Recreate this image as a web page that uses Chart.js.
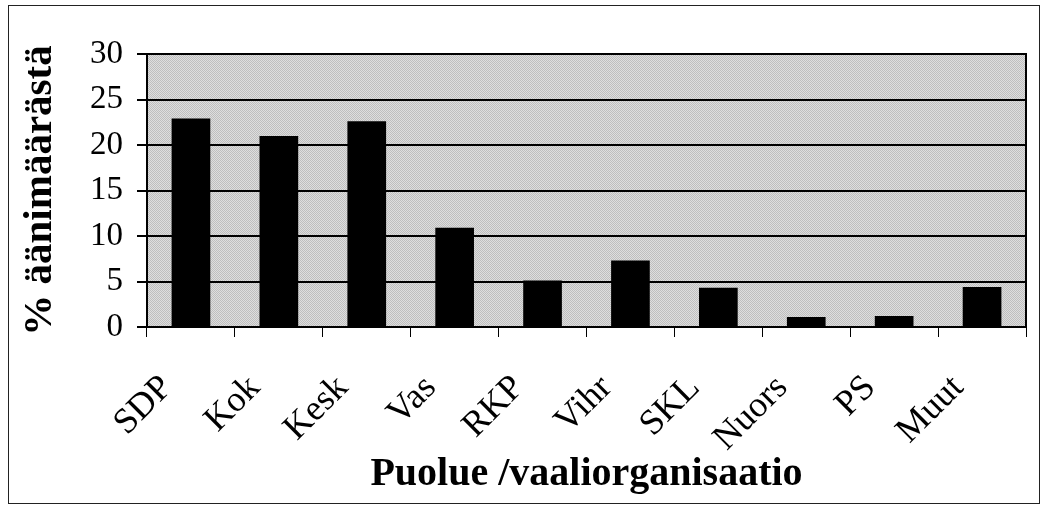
<!DOCTYPE html>
<html>
<head>
<meta charset="utf-8">
<script src="https://cdn.jsdelivr.net/npm/chart.js@4.4.0/dist/chart.umd.min.js"></script>
<style>
  html, body { margin: 0; padding: 0; background: #fff; }
  #wrap { width: 1046px; height: 511px; position: relative; }
</style>
</head>
<body>
<div id="wrap"><canvas id="chart" width="1046" height="511"></canvas></div>
<script>
const parties = ["SDP", "Kok", "Kesk", "Vas", "RKP", "Vihr", "SKL", "Nuors", "PS", "Muut"];
const shares = [22.9, 21.0, 22.6, 10.9, 5.1, 7.3, 4.3, 1.1, 1.2, 4.4];
const yTicks = [0, 5, 10, 15, 20, 25, 30];

// stippled gray plot background
const pat = document.createElement("canvas");
pat.width = 2; pat.height = 2;
const pctx = pat.getContext("2d");
pctx.fillStyle = "#dedede"; pctx.fillRect(0, 0, 2, 2);
pctx.fillStyle = "#bebebe"; pctx.fillRect(0, 0, 1, 1); pctx.fillRect(1, 1, 1, 1);

const framePlugin = {
  id: "frame",
  beforeDraw(chart) {
    const { ctx, chartArea: a } = chart;
    ctx.save();
    ctx.fillStyle = ctx.createPattern(pat, "repeat");
    ctx.fillRect(a.left, a.top, a.right - a.left, a.bottom - a.top);
    ctx.strokeStyle = "#222";
    ctx.lineWidth = 1;
    ctx.strokeRect(8.5, 5.5, 1031, 498);
    ctx.restore();
  },
  afterDraw(chart) {
    const { ctx, chartArea: a } = chart;
    ctx.save();
    ctx.strokeStyle = "#000";
    ctx.lineWidth = 2;
    ctx.strokeRect(a.left, a.top, a.right - a.left, a.bottom - a.top);
    ctx.restore();
  }
};

const serif = "'Liberation Serif', 'Times New Roman', serif";

new Chart(document.getElementById("chart"), {
  type: "bar",
  data: {
    labels: parties,
    datasets: [{
      data: shares,
      backgroundColor: "#000",
      barPercentage: 0.44,
      categoryPercentage: 1.0
    }]
  },
  options: {
    responsive: false,
    animation: false,
    layout: { padding: { left: 16, top: 54, right: 20, bottom: 12 } },
    plugins: { legend: { display: false }, tooltip: { enabled: false } },
    scales: {
      x: {
        afterFit: (s) => { s.height = 511 - 327 - 12; },
        grid: { drawOnChartArea: false, color: "#000", tickLength: 10, offset: true },
        border: { color: "#000", width: 2 },
        ticks: {
          color: "#000", maxRotation: 45, minRotation: 45, padding: 30, labelOffset: -24,
          font: { family: serif, size: 36 }
        },
        title: {
          display: true, text: "Puolue /vaaliorganisaatio", color: "#000",
          padding: { top: 0, bottom: 0 },
          font: { family: serif, size: 40, weight: "bold" }
        }
      },
      y: {
        min: 0, max: 30,
        afterFit: (s) => { s.width = 147 - 16; },
        afterBuildTicks: (s) => { s.ticks = yTicks.map(v => ({ value: v })); },
        grid: { color: "#000", lineWidth: 2, tickLength: 10 },
        border: { color: "#000", width: 2 },
        ticks: {
          color: "#000", padding: 14,
          font: { family: serif, size: 33 }
        },
        title: {
          display: true, text: "% äänimäärästä", color: "#000",
          padding: { top: 0, bottom: 0 },
          font: { family: serif, size: 41, weight: "bold" }
        }
      }
    }
  },
  plugins: [framePlugin]
});
</script>
</body>
</html>
